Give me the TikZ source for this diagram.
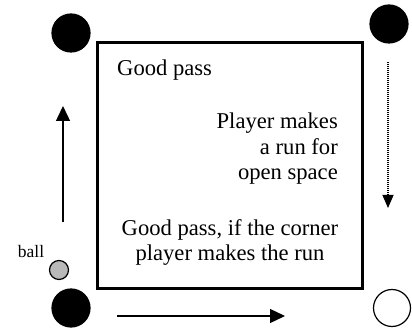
\documentclass[tikz,border=0pt]{standalone}
\usepackage{fontspec}
\setmainfont{Liberation Serif}
\usetikzlibrary{arrows.meta,calc}
\begin{document}
\begin{tikzpicture}[x=1pt,y=-1pt,
  player/.style={circle,fill=black,draw=black,line width=1.2pt,minimum size=38pt,inner sep=0pt},
  openplayer/.style={circle,fill=white,draw=black,line width=1.2pt,minimum size=37pt,inner sep=0pt},
  ballnode/.style={circle,fill=gray!55,draw=black,line width=1.2pt,minimum size=19pt,inner sep=0pt},
  txt/.style={inner sep=0pt,font=\fontsize{22.6}{25}\selectfont},
  runarrow/.style={line width=1.4pt,-{Triangle[length=15pt,width=14pt]}},
  field/.style={draw=black,line width=3pt}]
\useasboundingbox (0,0) rectangle (412,328);
\node[field,minimum width=265pt,minimum height=246pt,inner sep=0pt] (field) at (229.5,166) {};
\node[player] (tl) at (71,33) {};
\node[player] (tr) at (389,24) {};
\node[player] (bl) at (71,308) {};
\node[openplayer] (br) at (392,308) {};
\node[ballnode] (ball) at (59,270) {};
\node[inner sep=0pt,font=\fontsize{17.5}{20}\selectfont,anchor=base] (balllabel) at (31,258) {ball};
\coordinate (l1) at (63,222);
\coordinate (l2) at (63,106);
\coordinate (r1) at (388,62);
\coordinate (r2) at (388,208);
\coordinate (b1) at (117,316);
\coordinate (b2) at (285,316);
\draw[runarrow] (l1) -- (l2);
\draw[runarrow] (b1) -- (b2);
\draw[line width=1.1pt,dash pattern=on 1pt off 1pt] (r1) -- ($(r2)+(0,-13)$);
\draw[-{Triangle[length=13pt,width=11pt]},line width=1.1pt] ($(r2)+(0,-13.5)$) -- (r2);
\node[txt,anchor=base west] (t1) at (117,76) {Good pass};
\node[txt,anchor=base east] (t2) at (338,129) {Player makes};
\node[txt,anchor=base east] (t3) at (338,155) {a run for};
\node[txt,anchor=base east] (t4) at (338,180) {open space};
\node[txt,anchor=base] (t5) at (230,236) {Good pass, if the corner};
\node[txt,anchor=base] (t6) at (230,261) {player makes the run};
\end{tikzpicture}
\end{document}
